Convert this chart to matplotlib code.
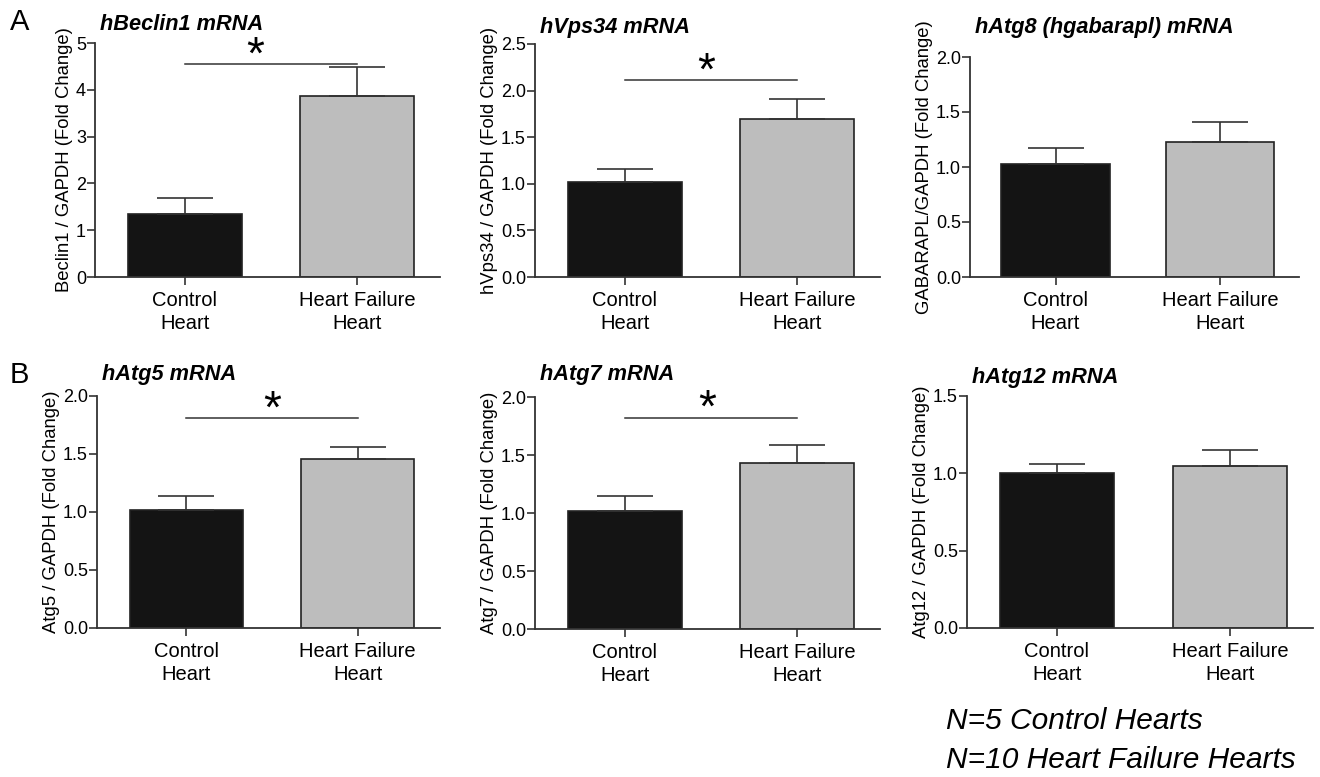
import matplotlib
matplotlib.use("Agg")
import matplotlib.pyplot as plt

plt.rcParams['font.family'] = ['Liberation Sans', 'DejaVu Sans']

categories = ["Control\nHeart", "Heart Failure\nHeart"]
titles = ["hBeclin1 mRNA", "hVps34 mRNA", "hAtg8 (hgabarapl) mRNA",
          "hAtg5 mRNA", "hAtg7 mRNA", "hAtg12 mRNA"]
ylabels = ["Beclin1 / GAPDH (Fold Change)", "hVps34 / GAPDH (Fold Change)",
           "GABARAPL/GAPDH (Fold Change)", "Atg5 / GAPDH (Fold Change)",
           "Atg7 / GAPDH (Fold Change)", "Atg12 / GAPDH (Fold Change)"]
control_mean = [1.34, 1.02, 1.03, 1.02, 1.02, 1.00]
control_err = [0.35, 0.14, 0.14, 0.12, 0.13, 0.06]
hf_mean = [3.87, 1.70, 1.23, 1.46, 1.43, 1.05]
hf_err = [0.61, 0.21, 0.18, 0.10, 0.16, 0.10]
ymax = [5, 2.5, 2.0, 2.0, 2.0, 1.5]
ystep = [1, 0.5, 0.5, 0.5, 0.5, 0.5]
sig_level = [4.55, 2.11, None, 1.81, 1.82, None]
note = ["N=5 Control Hearts", "N=10 Heart Failure Hearts"]

W, H = 1320, 777
# axes boxes in pixels: left, right, top, bottom
boxes = [(95, 440, 43, 277), (535, 880, 44, 277), (970, 1299, 57, 277),
         (97, 440, 396, 628), (535, 880, 397, 629), (967, 1313, 396, 628)]
title_y = [25, 27, 27, 375, 375, 377]
star_x = [0.41, 0.47, None, 0.5, 0.48, None]

fig = plt.figure(figsize=(W / 100, H / 100), dpi=100)

for i in range(6):
    l, r, t, b = boxes[i]
    ax = fig.add_axes([l / W, 1 - b / H, (r - l) / W, (b - t) / H])
    ax.bar([0, 1], [control_mean[i], hf_mean[i]], width=0.66,
           color=['#141414', '#bdbdbd'], edgecolor='#222222', linewidth=1.2,
           yerr=[[0, 0], [control_err[i], hf_err[i]]], capsize=20.5,
           error_kw=dict(ecolor='#333333', elinewidth=1.2, capthick=1.2),
           zorder=2)
    ax.set_xlim(-0.52, 1.48)
    ax.set_ylim(0, ymax[i])
    n = int(round(ymax[i] / ystep[i]))
    ticks = [k * ystep[i] for k in range(n + 1)]
    ax.set_yticks(ticks)
    if ystep[i] >= 1:
        ax.set_yticklabels([f"{v:.0f}" for v in ticks])
    else:
        ax.set_yticklabels([f"{v:.1f}" for v in ticks])
    ax.set_xticks([0, 1])
    ax.set_xticklabels(categories, fontsize=14.5, linespacing=1.25)
    ax.tick_params(axis='y', direction='out', length=5.5, width=1.2,
                   labelsize=13, pad=1, color='#333333')
    ax.tick_params(axis='x', direction='out', length=6, width=1.2,
                   pad=4, color='#333333')
    for s in ['top', 'right']:
        ax.spines[s].set_visible(False)
    for s in ['left', 'bottom']:
        ax.spines[s].set_color('#333333')
        ax.spines[s].set_linewidth(1.3)
    ax.set_ylabel(ylabels[i], fontsize=13.3, labelpad=2)
    fig.text((l + 5) / W, 1 - title_y[i] / H, titles[i], fontsize=15.7,
             fontweight='bold', style='italic', va='center', ha='left')
    if sig_level[i] is not None:
        ax.plot([0, 1], [sig_level[i], sig_level[i]], color='#333333',
                lw=1.1, clip_on=False)
        ax.annotate("*", xy=(star_x[i], sig_level[i]), xytext=(0, -3),
                    textcoords='offset points', fontsize=33,
                    ha='center', va='baseline', annotation_clip=False)

fig.text(10 / W, 1 - 22 / H, "A", fontsize=21, va='center', ha='left')
fig.text(10 / W, 1 - 375 / H, "B", fontsize=21, va='center', ha='left')
fig.text(946 / W, 1 - 721 / H, note[0], fontsize=21.5, style='italic',
         va='center', ha='left')
fig.text(946 / W, 1 - 760 / H, note[1], fontsize=21.5, style='italic',
         va='center', ha='left')

fig.savefig("out.png", dpi=100, facecolor='white')
